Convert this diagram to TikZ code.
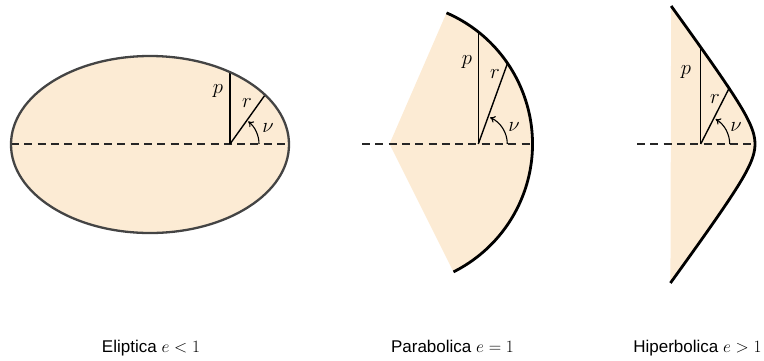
\documentclass[tikz,border=0pt]{standalone}
\usepackage{fontspec}
\usetikzlibrary{arrows.meta}
\newfontfamily\labfont{Liberation Sans}
\definecolor{orbfill}{RGB}{252,235,212}
\definecolor{rimgray}{RGB}{68,68,68}
\tikzset{
  axisline/.style={dashed, dash pattern=on 8pt off 5.3pt, line width=1.3pt, black!85},
  radline/.style={line width=1.4pt, black},
  anglearc/.style={line width=1.1pt, -{To[length=5pt,width=7pt]}},
  mathlab/.style={font=\fontsize{22}{24}\selectfont},
  caption/.style={font=\labfont\fontsize{17}{20}\selectfont, anchor=base},
  rimE/.style={line width=2.3pt, rimgray},
  rimC/.style={line width=2.8pt, black},
}
\begin{document}
\begin{tikzpicture}[x=1pt,y=-1pt]
\useasboundingbox (0,0) rectangle (764,360);
% ---------- ellipse ----------
\coordinate (Ec) at (150,144.5);
\coordinate (Ef) at (230,144);
\coordinate (El) at (11,144);
\coordinate (Er) at (289,144);
\coordinate (Ep) at (230,72);
\coordinate (Erend) at (265,95);
\fill[orbfill] (Ec) ellipse [x radius=139, y radius=88.5];
\draw[axisline] (El) -- (Er);
\draw[radline] (Ef) -- (Ep);
\draw[radline] (Ef) -- (Erend);
\draw[anglearc] ([xshift=29pt]Ef) arc[start angle=0, end angle=-51, radius=29];
\draw[rimE] (Ec) ellipse [x radius=139, y radius=88.5];
\node[mathlab] (Elp) at (218,91) {$p$};
\node[mathlab] (Elr) at (247,103) {$r$};
\node[mathlab] (Elnu) at (268,128) {$\nu$};
\node[caption] (capE) at (151,352) {Eliptica $e<1$};
% ---------- parabola (drawn as arc) ----------
\coordinate (Pc) at (389.5,144);
\coordinate (Pf) at (478.3,144);
\coordinate (Pl) at (362,144);
\coordinate (Pv) at (532.5,144);
\coordinate (Pp) at (478.3,31.9);
\coordinate (Prend) at (507.5,63.3);
\fill[orbfill] (Pc) -- ++(-66.5:143) arc[start angle=-66.5, end angle=63.4, radius=143] -- cycle;
\draw[axisline] (Pl) -- (Pv);
\draw[radline] (Pf) -- (Pp);
\draw[radline] (Pf) -- (Prend);
\draw[anglearc] ([xshift=29pt]Pf) arc[start angle=0, end angle=-66, radius=29];
\draw[rimC] (Pc) ++(-66.5:143) arc[start angle=-66.5, end angle=63.4, radius=143];
\node[mathlab] (Plp) at (467,62) {$p$};
\node[mathlab] (Plr) at (495,74) {$r$};
\node[mathlab] (Plnu) at (514,127) {$\nu$};
\node[caption] (capP) at (452.5,352) {Parabolica $e=1$};
% ---------- hyperbola ----------
\coordinate (Hf) at (700.7,144);
\coordinate (Hl) at (637,144);
\coordinate (Hv) at (755,144);
\coordinate (Hp) at (700.7,47.3);
\coordinate (Hrend) at (729.1,88.3);
\fill[orbfill] plot[domain=-138:139, samples=90, smooth] ({774.4-19.4*sqrt(1+(\x/26.4)^2)},{144+\x}) -- cycle;
\draw[axisline] (Hl) -- (Hv);
\draw[radline] (Hf) -- (Hp);
\draw[radline] (Hf) -- (Hrend);
\draw[anglearc] ([xshift=29pt]Hf) arc[start angle=0, end angle=-59, radius=29];
\draw[rimC] plot[domain=-138:139, samples=90, smooth] ({774.4-19.4*sqrt(1+(\x/26.4)^2)},{144+\x});
\node[mathlab] (Hlp) at (686,72) {$p$};
\node[mathlab] (Hlr) at (715,99) {$r$};
\node[mathlab] (Hlnu) at (736,127) {$\nu$};
\node[caption] (capH) at (697.5,352) {Hiperbolica $e>1$};
\end{tikzpicture}
\end{document}
